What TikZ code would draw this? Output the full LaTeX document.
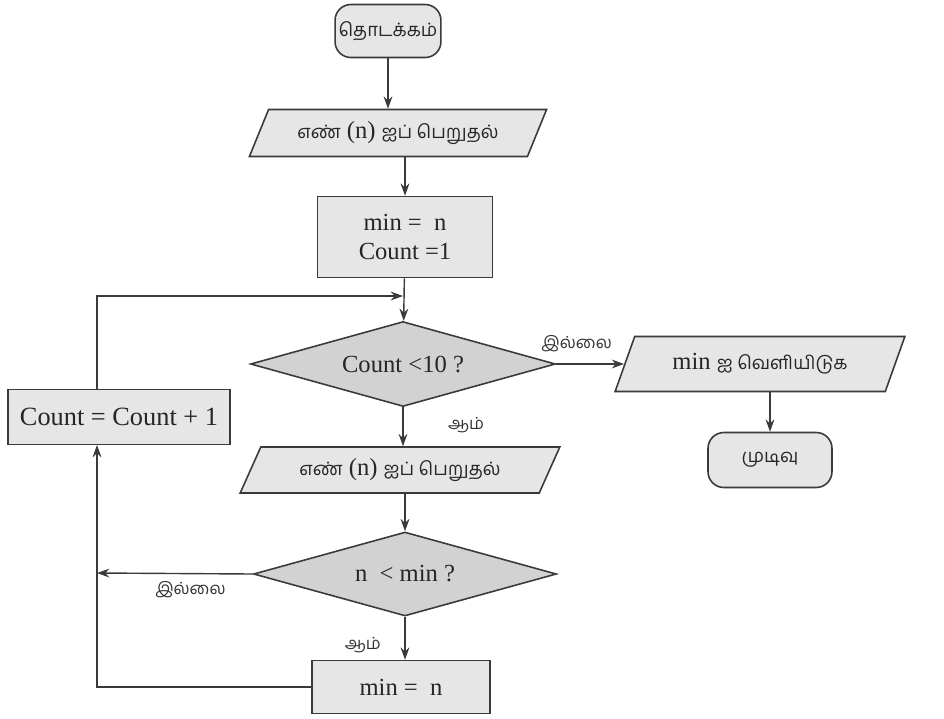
\documentclass[tikz,border=0pt]{standalone}
\usepackage{fontspec}
\setmainfont{Liberation Serif}
\newfontfamily\ta[Script=Tamil]{Hind Madurai}
\usepackage{tikz}
\usetikzlibrary{calc, positioning, arrows.meta, shapes.geometric}

\definecolor{boxfill}{HTML}{E6E6E6}
\definecolor{decfill}{HTML}{D2D2D2}
\definecolor{inkgray}{HTML}{3A3A3A}

\tikzset{
	base/.style={draw=inkgray, line width=0.9pt, text=black!85, align=center, inner sep=2pt},
	term/.style={base, fill=boxfill, rounded corners=9pt},
	iobox/.style={base, fill=boxfill, trapezium, trapezium left angle=63, trapezium right angle=117, trapezium stretches=true},
	procbox/.style={base, fill=boxfill},
	decbox/.style={base, fill=decfill, diamond, aspect=3.6, inner sep=0pt},
	flow/.style={draw=inkgray, line width=0.8pt, -{Stealth[length=7pt, width=5pt]}},
	yesno/.style={font=\ta\fontsize{9.5}{11}\selectfont, text=black!80}
}

\begin{document}
\begin{tikzpicture}[x=0.02cm, y=-0.02cm, font=\fontsize{14}{17}\selectfont]

	\useasboundingbox (0,0) rectangle (944,718);

	% nodes - main column %
	\node[term, minimum width=1.7cm, minimum height=1.06cm, font=\ta\fontsize{10.5}{12}\selectfont] (start) at (388,31) {தொடக்கம்};
	\node[iobox, minimum width=5.95cm, minimum height=0.94cm] (read1) at (398,133) {{\ta\fontsize{10.5}{12}\selectfont எண்} (n) {\ta\fontsize{10.5}{12}\selectfont ஐப் பெறுதல்}};
	\node[procbox, minimum width=3.5cm, minimum height=1.62cm] (init) at (405,237) {min =\ \ n\\Count =1};
	\node[decbox, minimum width=6.1cm, minimum height=1.7cm] (test1) at (403,364) {Count <10 ?};
	\node[iobox, minimum width=6.4cm, minimum height=0.92cm] (read2) at (400,470) {{\ta\fontsize{10.5}{12}\selectfont எண்} (n) {\ta\fontsize{10.5}{12}\selectfont ஐப் பெறுதல்}};
	\node[decbox, minimum width=6.06cm, minimum height=1.68cm] (test2) at (405,574) {n \ < min ?};
	\node[procbox, minimum width=3.56cm, minimum height=1.06cm] (upd) at (401,687) {min =\ \ n};

	% nodes - side boxes %
	\node[procbox, minimum width=4.44cm, minimum height=1.1cm, font=\fontsize{15}{18}\selectfont] (inc) at (119,417) {Count = Count + 1};
	\node[iobox, minimum width=5.8cm, minimum height=1.1cm] (out) at (760,364) {min {\ta\fontsize{10.5}{12}\selectfont ஐ வெளியிடுக}};
	\node[term, minimum width=2.48cm, minimum height=1.1cm, font=\ta\fontsize{10.5}{12}\selectfont] (stop) at (770,460) {முடிவு};

	% corners of the loop %
	\coordinate (join) at (403,296);
	\coordinate (incup) at (97,390);
	\coordinate (incdown) at (97,445);
	\coordinate (lside) at (97,573);

	% edges %
	\draw[flow] (start) -- (start |- read1.north);
	\draw[flow] (read1.south -| init) -- (init);
	\draw[flow] (init) -- (test1);
	\draw[flow] (incup) |- (join);
	\draw[flow] (test1.east) -- (out.west |- test1.east) node[yesno, pos=0.3, above=3pt] {இல்லை};
	\draw[flow] (out.south -| stop) -- (stop);
	\draw[flow] (test1.south) -- (read2.north -| test1.south) node[yesno, pos=0.45, right=22pt] {ஆம்};
	\draw[flow] (read2.south -| test2) -- (test2);
	\draw[flow] (test2.west) -- (lside) node[yesno, pos=0.4, below=1pt] {இல்லை};
	\draw[flow] (test2.south) -- (test2.south |- upd.north) node[yesno, pos=0.65, left=10pt] {ஆம்};
	\draw[flow] (upd.west) -| (incdown);

\end{tikzpicture}
\end{document}
